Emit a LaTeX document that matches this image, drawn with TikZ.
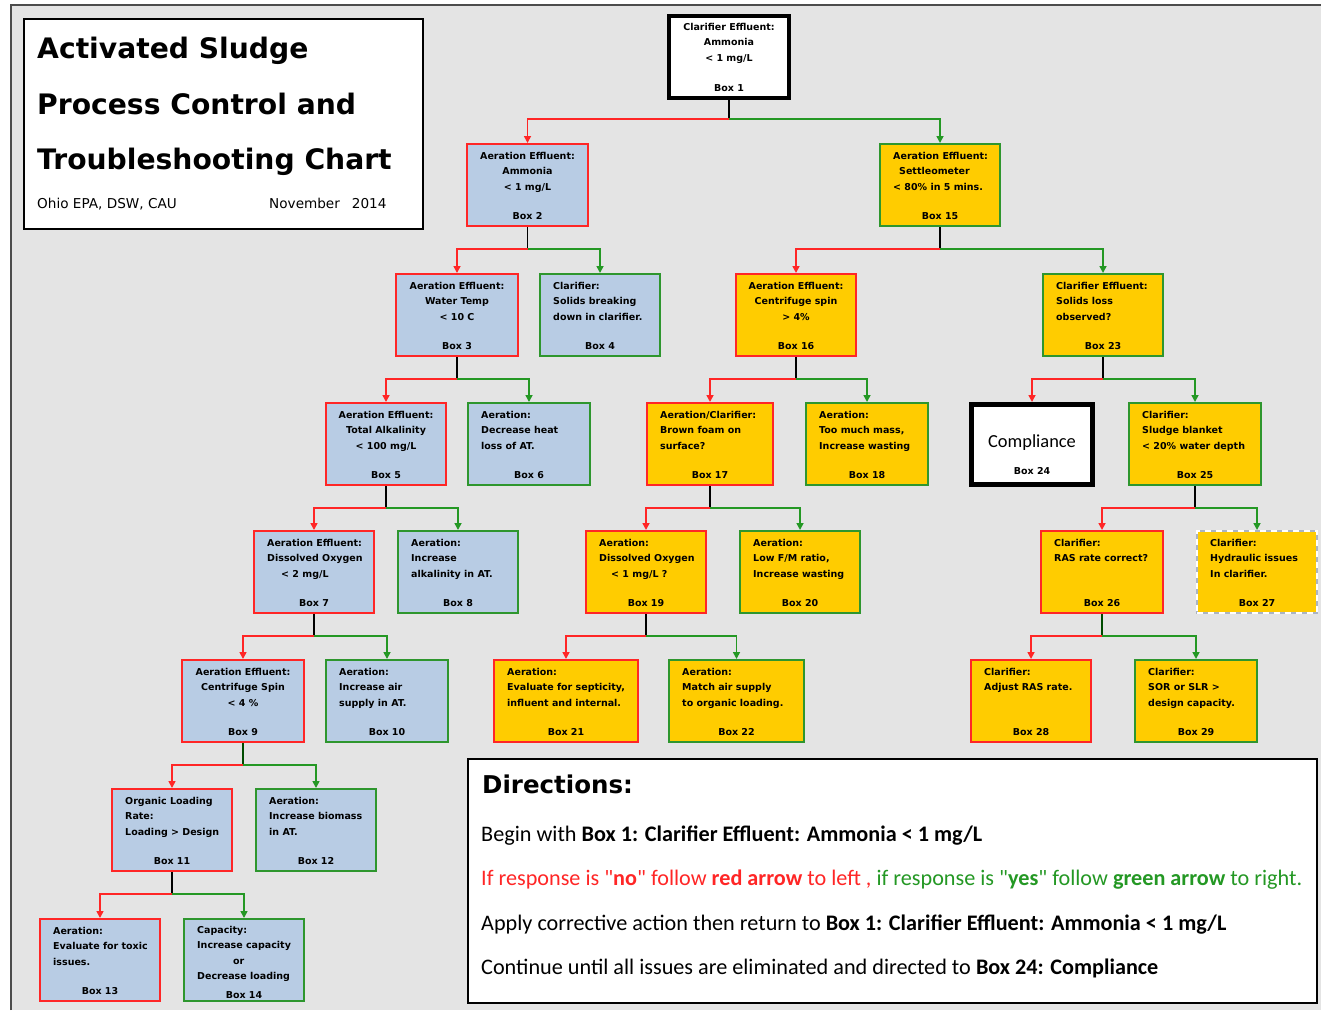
\documentclass[tikz,border=0pt]{standalone}
\usepackage{fontspec}
\setmainfont{DejaVu Sans}
\newfontfamily\calfont{Carlito}
\usetikzlibrary{arrows.meta}

\definecolor{pagegray}{RGB}{228,228,228}
\definecolor{boxblue}{RGB}{184,204,228}
\definecolor{boxyellow}{RGB}{255,204,0}
\definecolor{nored}{RGB}{255,38,38}
\definecolor{yesgreen}{RGB}{36,152,36}
\definecolor{edgegreen}{RGB}{46,150,46}
\definecolor{dashgray}{RGB}{170,180,196}

\tikzset{
  box/.style={draw, line width=2pt, minimum height=82, inner sep=0, anchor=north west},
  noblue/.style={box, draw=nored, fill=boxblue},
  yesblue/.style={box, draw=edgegreen, fill=boxblue},
  noyellow/.style={box, draw=nored, fill=boxyellow},
  yesyellow/.style={box, draw=edgegreen, fill=boxyellow},
  openyellow/.style={box, draw=dashgray, fill=boxyellow,
    postaction={draw=white, line width=2pt, dash pattern=on 6pt off 5pt}},
  boxtxt/.style={inner sep=0, font=\bfseries\fontsize{9.5}{15.5}\selectfont},
  stem/.style={line width=1.6pt, black},
  nolink/.style={line width=1.6pt, nored, -{Triangle[length=7pt,width=7pt]}},
  yeslink/.style={line width=1.6pt, yesgreen, -{Triangle[length=7pt,width=7pt]}},
  dirline/.style={inner sep=0, anchor=base west, font=\calfont\fontsize{22.2}{26}\selectfont},
  titleline/.style={inner sep=0, anchor=base west, font=\bfseries\fontsize{28.2}{30}\selectfont},
  smallline/.style={inner sep=0, anchor=base west, font=\fontsize{13.6}{15}\selectfont},
}

% #1 name, #2 style, #3 left x, #4 right x, #5 top y, #6 c/l alignment, #7 text, #8 number
\newcommand\FB[8]{%
  \node[#2, minimum width={#4-#3}] (#1) at (#3,-#5) {};
  \ifx c#6
    \node[boxtxt, anchor=north, align=center] (#1t) at ([yshift=-9]#1.north) {#7};
  \else
    \node[boxtxt, anchor=north west, align=left] (#1t) at ([xshift=14,yshift=-9]#1.north west) {#7};
  \fi
  \node[boxtxt, anchor=base] (#1n) at ([yshift=8]#1.south) {Box #8};
}

% #1 parent, #2 drop to the bar, #3 "no" child, #4 "yes" child, #5 stem colour
\newcommand\Split[5]{%
  \coordinate (#1j) at ([yshift=-#2]#1.south);
  \draw[stem, #5] (#1.south) -- (#1j);
  \draw[nolink] (#1j) -| (#3.north);
  \draw[yeslink] (#1j) -| (#4.north);
}

\begin{document}
\begin{tikzpicture}[x=1pt, y=1pt]
\useasboundingbox (0,0) rectangle (1321,-1010);
\fill[white] (0,0) rectangle (1321,-1010);
\fill[pagegray] (11,-5) rectangle (1321,-1010);
\draw[line width=2pt, black!70] (11,-1010) -- (11,-5) -- (1321,-5);

% title block
\node[draw, fill=white, line width=1.5pt, anchor=north west, inner sep=0,
      minimum width=399, minimum height=210] (title) at (23,-18) {};
\node[titleline] (tl1) at (37,-58) {Activated Sludge};
\node[titleline] (tl2) at (37,-114) {Process Control and};
\node[titleline] (tl3) at (37,-169) {Troubleshooting Chart};
\node[smallline] (org) at (37,-208) {Ohio EPA, DSW, CAU};
\node[smallline] (date) at (269,-208) {November\hspace{12pt}2014};

% box 1
\node[box, draw=black, line width=4pt, fill=white, minimum width=120, minimum height=82] (b1) at (667,-14) {};
\node[boxtxt, anchor=north, align=center] (b1t) at ([yshift=-9]b1.north) {Clarifier Effluent:\\Ammonia\\< 1 mg/L};
\node[boxtxt, anchor=base] (b1n) at ([yshift=9]b1.south) {Box 1};

% row 2
\FB{b2}{noblue}{466}{587}{143}{c}{Aeration Effluent:\\Ammonia\\< 1 mg/L}{2}
\FB{b15}{yesyellow}{879}{999}{143}{l}{Aeration Effluent:\\\hspace*{6pt}Settleometer\\< 80\% in 5 mins.}{15}

% row 3
\FB{b3}{noblue}{395}{517}{273}{c}{Aeration Effluent:\\Water Temp\\< 10 C}{3}
\FB{b4}{yesblue}{539}{659}{273}{l}{Clarifier:\\Solids breaking\\down in clarifier.}{4}
\FB{b16}{noyellow}{735}{855}{273}{c}{Aeration Effluent:\\Centrifuge spin\\> 4\%}{16}
\FB{b23}{yesyellow}{1042}{1162}{273}{l}{Clarifier Effluent:\\Solids loss\\observed?}{23}

% row 4
\FB{b5}{noblue}{325}{445}{402}{c}{Aeration Effluent:\\Total Alkalinity\\< 100 mg/L}{5}
\FB{b6}{yesblue}{467}{589}{402}{l}{Aeration:\\Decrease heat\\loss of AT.}{6}
\FB{b17}{noyellow}{646}{772}{402}{l}{Aeration/Clarifier:\\Brown foam on\\surface?}{17}
\FB{b18}{yesyellow}{805}{927}{402}{l}{Aeration:\\Too much mass,\\Increase wasting}{18}
\FB{b25}{yesyellow}{1128}{1260}{402}{l}{Clarifier:\\Sludge blanket\\< 20\% water depth}{25}

% compliance
\node[box, draw=black, line width=5pt, fill=white, minimum width=121, minimum height=80] (b24) at (969,-402) {};
\node[inner sep=0, font=\calfont\fontsize{18.4}{20}\selectfont] (b24t) at (1032,-443) {Compliance};
\node[boxtxt, anchor=base] (b24n) at (1032,-474) {Box 24};

% row 5
\FB{b7}{noblue}{253}{373}{530}{l}{Aeration Effluent:\\Dissolved Oxygen\\\hspace*{14pt}< 2 mg/L}{7}
\FB{b8}{yesblue}{397}{517}{530}{l}{Aeration:\\Increase\\alkalinity in AT.}{8}
\FB{b19}{noyellow}{585}{705}{530}{l}{Aeration:\\Dissolved Oxygen\\\hspace*{12pt}< 1 mg/L ?}{19}
\FB{b20}{yesyellow}{739}{859}{530}{l}{Aeration:\\Low F/M ratio,\\Increase wasting}{20}
\FB{b26}{noyellow}{1040}{1162}{530}{l}{Clarifier:\\RAS rate correct?}{26}
\FB{b27}{openyellow}{1196}{1316}{530}{l}{Clarifier:\\Hydraulic issues\\In clarifier.}{27}

% row 6
\FB{b9}{noblue}{181}{303}{659}{c}{Aeration Effluent:\\Centrifuge Spin\\< 4 \%}{9}
\FB{b10}{yesblue}{325}{447}{659}{l}{Aeration:\\Increase air\\supply in AT.}{10}
\FB{b21}{noyellow}{493}{637}{659}{l}{Aeration:\\Evaluate for septicity,\\influent and internal.}{21}
\FB{b22}{yesyellow}{668}{803}{659}{l}{Aeration:\\Match air supply\\to organic loading.}{22}
\FB{b28}{noyellow}{970}{1090}{659}{l}{Clarifier:\\Adjust RAS rate.}{28}
\FB{b29}{yesyellow}{1134}{1256}{659}{l}{Clarifier:\\SOR or SLR >\\design capacity.}{29}

% row 7
\FB{b11}{noblue}{111}{231}{788}{l}{Organic Loading\\Rate:\\Loading > Design}{11}
\FB{b12}{yesblue}{255}{375}{788}{l}{Aeration:\\Increase biomass\\in AT.}{12}

% row 8
\FB{b13}{noblue}{39}{159}{918}{l}{Aeration:\\Evaluate for toxic\\issues.}{13}
\node[yesblue, minimum width=120] (b14) at (183,-918) {};
\node[boxtxt, anchor=north west, align=left] (b14t) at ([xshift=14,yshift=-8]b14.north west) {Capacity:\\Increase capacity\\\hspace*{36pt}or\\Decrease loading};
\node[boxtxt, anchor=base] (b14n) at ([yshift=4]b14.south) {Box 14};

% decision links
\Split{b1}{19}{b2}{b15}{black}
\Split{b2}{22}{b3}{b4}{black}
\Split{b15}{22}{b16}{b23}{black}
\Split{b3}{22}{b5}{b6}{black}
\Split{b16}{22}{b17}{b18}{black}
\Split{b23}{22}{b24}{b25}{black}
\Split{b5}{22}{b7}{b8}{black}
\Split{b17}{22}{b19}{b20}{black}
\Split{b25}{22}{b26}{b27}{black}
\Split{b7}{22}{b9}{b10}{black}
\Split{b19}{22}{b21}{b22}{black}
\Split{b26}{22}{b28}{b29}{black!40!green!50!black}
\Split{b9}{22}{b11}{b12}{black!40!green!50!black}
\Split{b11}{22}{b13}{b14}{black}

% directions
\node[draw, fill=white, line width=1.5pt, anchor=north west, inner sep=0,
      minimum width=849, minimum height=244] (dir) at (467,-758) {};
\node[inner sep=0, anchor=base west, font=\bfseries\fontsize{24.5}{28}\selectfont] (dirhead) at (482,-793) {Directions:};
\node[dirline] (dir1) at (481,-841) {Begin with \textbf{Box 1: Clarifier Effluent: Ammonia < 1 mg/L}};
\node[dirline] (dir2) at (481,-885) {\textcolor{nored}{If response is "\textbf{no}" follow \textbf{red arrow} to left ,} \textcolor{yesgreen}{if response is "\textbf{yes}" follow \textbf{green arrow} to right.}};
\node[dirline] (dir3) at (481,-930) {Apply corrective action then return to \textbf{Box 1: Clarifier Effluent: Ammonia < 1 mg/L}};
\node[dirline] (dir4) at (481,-974) {Continue until all issues are eliminated and directed to \textbf{Box 24: Compliance}};
\end{tikzpicture}
\end{document}
